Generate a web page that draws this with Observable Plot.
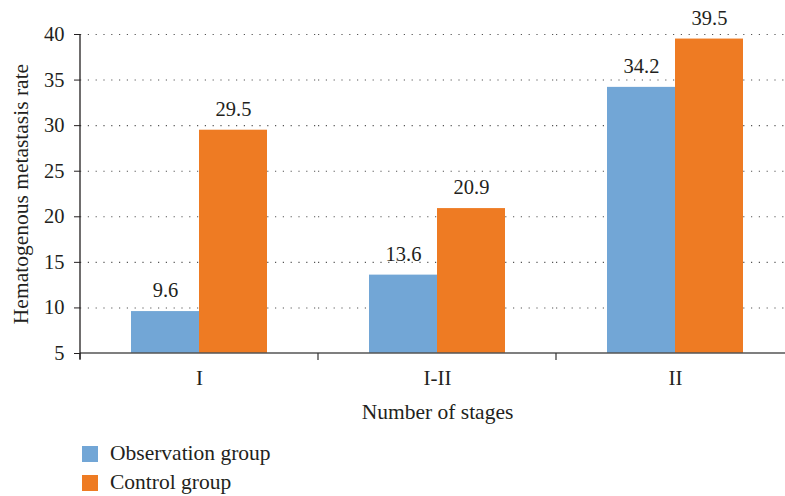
<!DOCTYPE html>
<html><head><meta charset="utf-8">
<script src="https://cdn.jsdelivr.net/npm/d3@7"></script>
<script src="https://cdn.jsdelivr.net/npm/@observablehq/plot@0.6"></script>
<style>
body{margin:0;background:#fff;font-family:"Liberation Serif",serif;}
#chart{width:785px;height:496px;position:relative;overflow:hidden;background:#fff}
#chart svg{position:absolute;left:0;top:0}
.legend{position:absolute;left:82px;top:439px;font-size:21.5px;color:#231f20}
.item{display:flex;align-items:center;height:29px}
.sw{width:16px;height:16px;margin-right:12px;flex:none}
</style></head><body><div id="chart"></div>
<script>
const stages = ["I", "I-II", "II"];
const groups = ["Observation group", "Control group"];
const observation = [9.6, 13.6, 34.2];
const control = [29.5, 20.9, 39.5];
const colors = ["#72a6d6", "#ee7b23"];
const yTicks = [5, 10, 15, 20, 25, 30, 35, 40];

const data = stages.flatMap((s, i) => [
  {stage: s, group: groups[0], value: observation[i]},
  {stage: s, group: groups[1], value: control[i]}
]);

const W = 785, H = 430;
const plot = Plot.plot({
  width: W, height: H,
  marginLeft: 80, marginRight: -9, marginTop: 34, marginBottom: 77,
  style: {fontFamily: "Liberation Serif", fontSize: "20.5px", color: "#231f20", background: "transparent"},
  fx: {domain: stages, padding: 0, label: "Number of stages"},
  x: {domain: groups, paddingInner: 0, paddingOuter: 0.75, axis: null},
  y: {domain: [yTicks[0], yTicks[yTicks.length - 1]]},
  color: {domain: groups, range: colors},
  marks: [
    Plot.ruleY(yTicks.slice(1), {stroke: "#555", strokeDasharray: "1.2,6.6", strokeWidth: 1.1}),
    Plot.barY(data, {fx: "stage", x: "group", y1: yTicks[0], y2: "value", fill: "group"}),
    Plot.text(data, {fx: "stage", x: "group", y: "value", text: d => d.value.toFixed(1), dy: -21, fontSize: 20.5, fill: "#231f20"}),
    Plot.axisY({ticks: yTicks, tickSize: 6, tickPadding: 10, fontSize: 20.5, label: "Hematogenous metastasis rate", labelAnchor: "center", labelOffset: 68, labelArrow: "none"}),
    Plot.axisFx({anchor: "bottom", tickSize: 0, tickPadding: 17, fontSize: 21, label: "Number of stages", labelAnchor: "center", labelOffset: 65, labelArrow: "none"})
  ]
});
document.getElementById("chart").appendChild(plot);

// axis lines and boundary ticks, positioned with the plot's own scales
const svg = d3.select(plot.tagName.toLowerCase() === "svg" ? plot : plot.querySelector("svg"));
svg.selectAll("g[aria-label='y-axis label'] text, g[aria-label='fx-axis label'] text").style("font-size", "21.5px");
const fx = plot.scale("fx"), ys = plot.scale("y");
const y0 = ys.apply(yTicks[0]), yTop = ys.apply(yTicks[yTicks.length - 1]);
const x0 = fx.apply(stages[0]);
const g = svg.append("g");
g.append("line").attr("x1", x0).attr("x2", W).attr("y1", y0).attr("y2", y0).attr("stroke", "#555").attr("stroke-width", 1.3);
stages.forEach(s => {
  const xs = fx.apply(s);
  g.append("line").attr("x1", xs).attr("x2", xs).attr("y1", y0).attr("y2", y0 + 7).attr("stroke", "#333").attr("stroke-width", 1.2);
});
g.append("line").attr("x1", x0).attr("x2", x0).attr("y1", yTop).attr("y2", y0 + 6).attr("stroke", "#231f20").attr("stroke-width", 1.3);

// legend
const legend = d3.select("#chart").append("div").attr("class", "legend");
groups.forEach((name, i) => {
  const it = legend.append("div").attr("class", "item");
  it.append("div").attr("class", "sw").style("background", colors[i]);
  it.append("span").text(name);
});
</script>
</body></html>
